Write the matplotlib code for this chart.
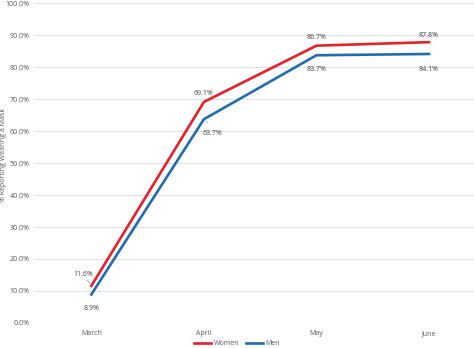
import matplotlib.pyplot as plt
from matplotlib.ticker import PercentFormatter

months = ["March", "April", "May", "June"]
women = [11.6, 69.1, 86.7, 87.8]
men = [8.9, 63.7, 83.7, 84.1]

# label offsets in points (dx, dy)
women_offsets = [(-6, 8), (0, 6), (0, 6), (0, 5)]
men_offsets = [(0, -10), (6, -10), (0, -10), (0, -11)]

plt.rcParams["font.family"] = ["Open Sans", "DejaVu Sans"]
text_color = "#595959"

fig = plt.figure(figsize=(4.74, 3.48), dpi=100)
ax = fig.add_axes([0.074, 0.072, 0.926, 0.919])

x = list(range(len(months)))
ax.plot(x, women, color="#e8202a", linewidth=1.9, label="Women", solid_joinstyle="miter")
ax.plot(x, men, color="#1f6db1", linewidth=1.9, label="Men", solid_joinstyle="miter")

for i in x:
    dx, dy = women_offsets[i]
    ax.annotate(f"{women[i]:.1f}%", xy=(i, women[i]), xytext=(dx, dy),
                textcoords="offset points", ha="center", va="center",
                fontsize=5, color="#404040")
    dx, dy = men_offsets[i]
    ax.annotate(f"{men[i]:.1f}%", xy=(i, men[i]), xytext=(dx, dy),
                textcoords="offset points", ha="center", va="center",
                fontsize=5, color="#404040")

# leader lines like in the original
ax.annotate("", xy=(0, women[0]), xytext=(-0.05, women[0] + 2.5),
            arrowprops=dict(arrowstyle="-", color="#a6a6a6", lw=0.6))
ax.annotate("", xy=(1, men[1]), xytext=(1.05, men[1] - 1.8),
            arrowprops=dict(arrowstyle="-", color="#a6a6a6", lw=0.6))

ax.set_ylim(0, 100)
ax.set_xlim(-0.5, 3.40)
ax.set_yticks(range(0, 101, 10))
ax.yaxis.set_major_formatter(PercentFormatter(decimals=1))
ax.set_xticks(x)
ax.set_xticklabels(months)
ax.tick_params(axis="y", length=0, labelsize=5, colors=text_color, pad=4)
ax.tick_params(axis="x", length=0, labelsize=5, colors=text_color, pad=5)
ax.grid(axis="y", color="#e0e0e0", linewidth=0.7)
ax.set_axisbelow(True)
for s in ax.spines.values():
    s.set_visible(False)

# y label placed by hand so it stays inside the figure
fig.text(4 / 474, 1 - 155 / 348, "% Reporting Wearing a Mask", rotation=90,
         ha="center", va="center", fontsize=5, color=text_color)

fig.legend(loc="lower center", bbox_to_anchor=(0.5, -0.015), ncol=2, frameon=False,
           fontsize=5, handlelength=2.5, columnspacing=1.0, handletextpad=0.3,
           labelcolor=text_color)

fig.savefig("out.png", dpi=100)
